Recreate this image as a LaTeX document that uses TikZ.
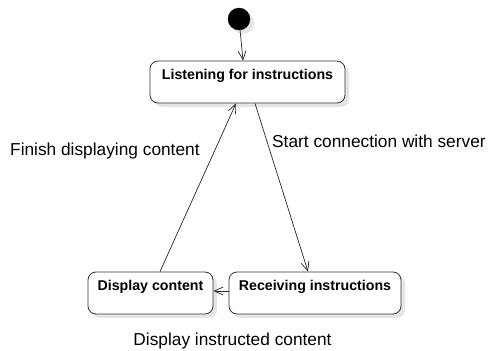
\documentclass[tikz,border=0pt]{standalone}
\usepackage{fontspec}
\setmainfont{Liberation Sans}
\usepackage{tikz}
\usetikzlibrary{arrows.meta,shadows}

\begin{document}
\begin{tikzpicture}[x=1pt,y=-1pt]
\tikzset{
  shd/.style={drop shadow={shadow xshift=4pt,shadow yshift=-4pt,fill=black!10,opacity=1}},
  state/.style={draw=black!80,line width=0.8pt,rounded corners=8pt,fill=white,shd,align=center,
    minimum height=42pt,text height=14pt,text depth=20pt,inner ysep=4pt,inner xsep=0pt,
    font=\fontsize{14.2}{17}\selectfont\bfseries},
  init/.style={circle,fill=black,draw=black,minimum size=22pt,inner sep=0pt,shd},
  lbl/.style={inner sep=0pt,font=\fontsize{17.3}{20}\selectfont},
  arr/.style={-{Straight Barb[length=9pt,width=8pt]},line width=0.7pt,draw=black!85}
}
\useasboundingbox (0,0) rectangle (488,351);
\node(init)[init] at (239,19) {};
\node(lst)[state,minimum width=195pt] at (247.5,82) {Listening for instructions};
\node(dsp)[state,minimum width=125pt] at (150.5,293) {Display content};
\node(rcv)[state,minimum width=172pt] at (315,293) {Receiving instructions};
\node(lfin)[lbl,anchor=base west] at (10,155) {Finish displaying content};
\node(lstart)[lbl,anchor=base west] at (272,147) {Start connection with server};
\node(ldisp)[lbl,anchor=base] at (232.5,345) {Display instructed content};
\draw[arr](init)--([xshift=-4.5pt]lst.north);
\draw[arr]([xshift=7.5pt]lst.south)--([xshift=-7pt]rcv.north);
\draw[arr]([yshift=2pt]rcv.west)--([yshift=2pt]dsp.east);
\draw[arr]([xshift=9.5pt]dsp.north)--([xshift=-11.5pt]lst.south);
\end{tikzpicture}
\end{document}
